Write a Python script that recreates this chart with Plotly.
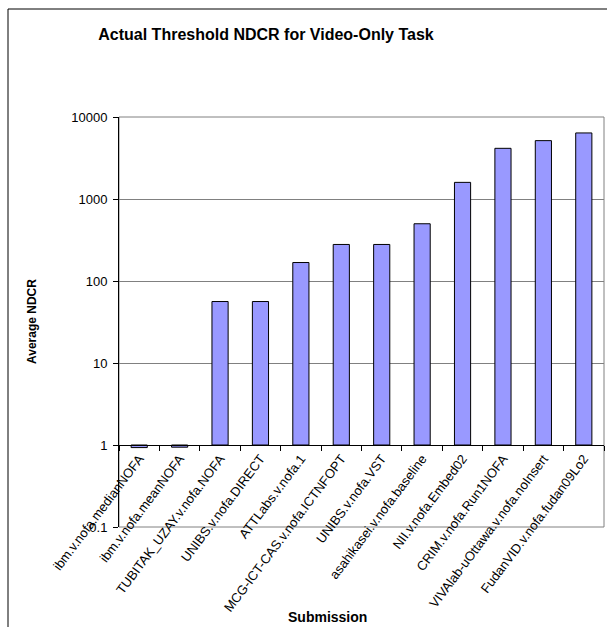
import plotly.graph_objects as go

# Submissions and their average actual-threshold NDCR
submissions = [
    "ibm.v.nofa.medianNOFA",
    "ibm.v.nofa.meanNOFA",
    "TUBITAK_UZAY.v.nofa.NOFA",
    "UNIBS.v.nofa.DIRECT",
    "ATTLabs.v.nofa.1",
    "MCG-ICT-CAS.v.nofa.ICTNFOPT",
    "UNIBS.v.nofa.VST",
    "asahikasei.v.nofa.baseline",
    "NII.v.nofa.Embed02",
    "CRIM.v.nofa.Run1NOFA",
    "VIVAlab-uOttawa.v.nofa.noInsert",
    "FudanVID.v.nofa.fudan09Lo2",
]
avg_ndcr = [0.93, 0.94, 56.2, 56.2, 168, 279, 279, 499, 1595, 4150, 5150, 6390]

y_tickvals = [0.1, 1, 10, 100, 1000, 10000]
y_ticktext = ["0.1", "1", "10", "100", "1000", "10000"]

# Bars grow from the value-axis crossing at 1
BASE = 1.0

W, H = 607, 627
ML, MR, MT, MB = 119, 3, 117, 100
PW, PH = W - ML - MR, H - MT - MB


def px_x(x):
    return (x - ML) / PW


def px_y(y):
    return (H - MB - y) / PH


FONT = "Liberation Sans, Arial, sans-serif"

fig = go.Figure(
    go.Bar(
        x=submissions,
        y=[v - BASE for v in avg_ndcr],
        base=BASE,
        marker=dict(color="#9999FF", line=dict(color="#000000", width=1)),
        width=0.4,
        customdata=avg_ndcr,
        hovertemplate="%{x}<br>%{customdata}<extra></extra>",
    )
)

fig.update_layout(
    width=W,
    height=H,
    margin=dict(l=ML, r=MR, t=MT, b=MB, pad=0),
    paper_bgcolor="white",
    plot_bgcolor="white",
    showlegend=False,
    font=dict(family=FONT, color="#000000"),
    title=dict(
        text="<b>Actual Threshold NDCR for Video-Only Task</b>",
        font=dict(size=16, family=FONT, color="#000000"),
        x=266 / W,
        xref="container",
        xanchor="center",
        y=1 - 34 / H,
        yref="container",
        yanchor="middle",
    ),
    xaxis=dict(
        type="category",
        range=[-0.5, len(submissions) - 0.5],
        anchor="free",
        position=px_y(445),
        showline=True,
        linecolor="#000000",
        linewidth=1,
        ticks="outside",
        tickson="boundaries",
        ticklen=5,
        tickcolor="#000000",
        tickangle=-53,
        tickfont=dict(size=13, family=FONT, color="#000000"),
        showgrid=False,
        zeroline=False,
        automargin=False,
    ),
    yaxis=dict(
        type="log",
        range=[-1, 4],
        tickvals=y_tickvals,
        ticktext=y_ticktext,
        showline=True,
        linecolor="#000000",
        linewidth=1,
        ticks="outside",
        ticklen=5,
        tickcolor="#000000",
        tickfont=dict(size=13, family=FONT, color="#000000"),
        ticklabelstandoff=3,
        showgrid=True,
        gridcolor="#808080",
        gridwidth=1,
        zeroline=False,
        automargin=False,
    ),
    shapes=[
        # plot-area frame
        dict(
            type="rect", xref="x domain", yref="y domain",
            x0=0, x1=1, y0=0, y1=1,
            line=dict(color="#808080", width=1), layer="below",
        ),
        # chart-area frame
        dict(
            type="rect", xref="paper", yref="paper",
            x0=px_x(8), x1=px_x(640), y0=px_y(650), y1=px_y(9),
            line=dict(color="#000000", width=1), layer="below",
        ),
    ],
    annotations=[
        dict(
            text="<b>Average NDCR</b>", xref="paper", yref="paper",
            x=px_x(32), y=px_y(322), xanchor="center", yanchor="middle",
            textangle=-90, showarrow=False,
            font=dict(size=12, family=FONT, color="#000000"),
        ),
        dict(
            text="<b>Submission</b>", xref="paper", yref="paper",
            x=px_x(327), y=px_y(617), xanchor="center", yanchor="middle",
            showarrow=False,
            font=dict(size=14, family=FONT, color="#000000"),
        ),
    ],
)

fig.write_html("out.html")
